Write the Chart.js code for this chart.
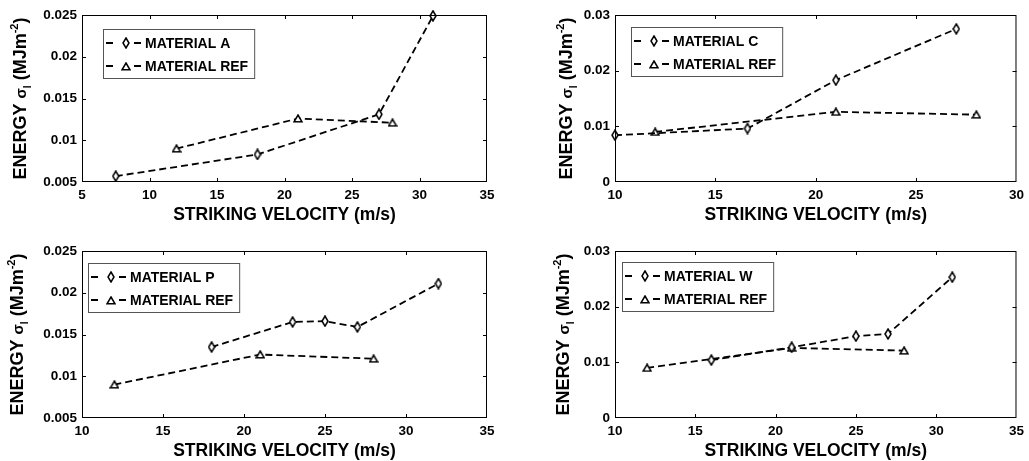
<!DOCTYPE html>
<html>
<head>
<meta charset="utf-8">
<script src="https://cdn.jsdelivr.net/npm/chart.js@4"></script>
<style>
  body { margin: 0; background: #fff; }
  canvas { position: absolute; }
</style>
</head>
<body>
<canvas id="chartA" width="514" height="230" style="left:0;top:0"></canvas>
<canvas id="chartC" width="515" height="230" style="left:514px;top:0"></canvas>
<canvas id="chartP" width="514" height="231" style="left:0;top:230px"></canvas>
<canvas id="chartW" width="515" height="231" style="left:514px;top:230px"></canvas>
<script>
// Velocidades de impacto (m/s) e energia (MJ/m2) para cada material
const velocityA = [7.5, 18, 27, 31];
const energyA = [0.0057, 0.0083, 0.0131, 0.0249];
const velocityC = [10, 16.6, 21, 27];
const energyC = [0.0084, 0.0096, 0.0183, 0.0275];
const velocityP = [18, 23, 25, 27, 32];
const energyP = [0.0135, 0.0165, 0.0166, 0.0159, 0.0211];
const velocityW = [16, 21, 25, 27, 31];
const energyW = [0.0104, 0.0127, 0.0147, 0.0151, 0.0253];
const velocityRef = [12, 21, 28];
const energyRef = [0.009, 0.0126, 0.0121];

const FONT = "'Liberation Sans', Arial, sans-serif";

// marcadores: losango estreito e triângulo vazados
function makeDiamond() {
  const c = document.createElement("canvas");
  c.width = 8; c.height = 12;
  const g = c.getContext("2d");
  g.beginPath();
  g.moveTo(4, 1); g.lineTo(7, 6); g.lineTo(4, 11); g.lineTo(1, 6);
  g.closePath();
  g.fillStyle = "#fff"; g.fill();
  g.strokeStyle = "#000"; g.lineWidth = 1.5; g.stroke();
  return c;
}
function makeTriangle() {
  const c = document.createElement("canvas");
  c.width = 10; c.height = 9;
  const g = c.getContext("2d");
  g.beginPath();
  g.moveTo(5, 1); g.lineTo(9, 7.8); g.lineTo(1, 7.8);
  g.closePath();
  g.fillStyle = "#fff"; g.fill();
  g.strokeStyle = "#000"; g.lineWidth = 1.5; g.stroke();
  return c;
}
const diamond = makeDiamond();
const triangle = makeTriangle();

function toPoints(xs, ys) {
  return xs.map((x, i) => ({ x: x, y: ys[i] }));
}

function fmt(v) {
  return String(+v.toFixed(4));
}

// moldura, marcas internas, legenda e título do eixo y
const framePlugin = {
  id: "frame",
  afterDraw(chart, args, opts) {
    const ctx = chart.ctx;
    const a = chart.chartArea;
    const xs = chart.scales.x, ys = chart.scales.y;
    ctx.save();
    ctx.strokeStyle = "#000";
    ctx.lineWidth = 1;
    ctx.strokeRect(a.left + 0.5, a.top + 0.5, a.right - a.left - 1, a.bottom - a.top - 1);

    ctx.beginPath();
    xs.ticks.forEach((t) => {
      const px = Math.round(xs.getPixelForValue(t.value)) + 0.5;
      if (px < a.left + 2 || px > a.right - 2) return;
      ctx.moveTo(px, a.bottom); ctx.lineTo(px, a.bottom - 4);
      ctx.moveTo(px, a.top); ctx.lineTo(px, a.top + 4);
    });
    ys.ticks.forEach((t) => {
      const py = Math.round(ys.getPixelForValue(t.value)) + 0.5;
      if (py < a.top + 2 || py > a.bottom - 2) return;
      ctx.moveTo(a.left, py); ctx.lineTo(a.left + 4, py);
      ctx.moveTo(a.right, py); ctx.lineTo(a.right - 4, py);
    });
    ctx.stroke();

    // legenda
    const bx = a.left + opts.legendX, by = a.top + opts.legendY;
    ctx.font = "bold 14px " + FONT;
    let tw = 0;
    chart.data.datasets.forEach((d) => { tw = Math.max(tw, ctx.measureText(d.label).width); });
    const bw = 42 + tw + 6, bh = 49;
    ctx.fillStyle = "#fff";
    ctx.fillRect(bx, by, bw, bh);
    ctx.strokeStyle = "#555";
    ctx.strokeRect(bx + 0.5, by + 0.5, bw, bh);
    chart.data.datasets.forEach((d, i) => {
      const ry = by + 14 + i * 23;
      ctx.strokeStyle = "#000";
      ctx.lineWidth = 1.8;
      ctx.beginPath();
      ctx.moveTo(bx + 3, ry); ctx.lineTo(bx + 10, ry);
      ctx.moveTo(bx + 31, ry); ctx.lineTo(bx + 38, ry);
      ctx.stroke();
      const img = d.pointStyle;
      ctx.drawImage(img, bx + 23 - img.width / 2, Math.round(ry - img.height / 2));
      ctx.fillStyle = "#000";
      ctx.textAlign = "left";
      ctx.textBaseline = "middle";
      ctx.fillText(d.label, bx + 42, ry + 1);
    });

    // título do eixo y com índice e expoente
    const parts = [
      { t: "ENERGY ", f: "bold 18px " + FONT, dy: 0 },
      { t: "σ", f: "bold 15px " + FONT, dy: 0 },
      { t: "I", f: "bold 10px " + FONT, dy: 5 },
      { t: " (MJm", f: "bold 18px " + FONT, dy: 0 },
      { t: "-2", f: "bold 11px " + FONT, dy: -8 },
      { t: ")", f: "bold 18px " + FONT, dy: 0 },
    ];
    let total = 0;
    parts.forEach((p) => { ctx.font = p.f; p.w = ctx.measureText(p.t).width; total += p.w; });
    ctx.translate(opts.titleX, (a.top + a.bottom) / 2);
    ctx.rotate(-Math.PI / 2);
    ctx.textAlign = "left";
    ctx.textBaseline = "alphabetic";
    ctx.fillStyle = "#000";
    let cx = -total / 2;
    parts.forEach((p) => {
      ctx.font = p.f;
      ctx.fillText(p.t, cx, 6.5 + p.dy);
      cx += p.w;
    });
    ctx.restore();
  },
};

function drawPanel(id, cfg) {
  const canvas = document.getElementById(id);
  const W = canvas.width, H = canvas.height;
  const area = cfg.area;
  return new Chart(canvas.getContext("2d"), {
    type: "line",
    data: {
      datasets: cfg.series.map((s) => ({
        label: s.label,
        data: toPoints(s.x, s.y),
        borderColor: "#000",
        borderWidth: 1.8,
        borderDash: [7, 4],
        pointStyle: s.marker,
        pointRadius: 4,
        pointHoverRadius: 4,
        fill: false,
        tension: 0,
        clip: false,
      })),
    },
    options: {
      responsive: false,
      animation: false,
      events: [],
      layout: { padding: { left: 0, top: area.t, right: W - area.r, bottom: 0 } },
      plugins: {
        legend: { display: false },
        tooltip: { enabled: false },
        frame: { legendX: cfg.legend[0], legendY: cfg.legend[1], titleX: cfg.titleX },
      },
      scales: {
        x: {
          type: "linear",
          min: cfg.xRange[0],
          max: cfg.xRange[1],
          grid: { display: false, drawTicks: false },
          border: { display: false },
          ticks: {
            stepSize: 5,
            padding: 5,
            color: "#000",
            font: { family: FONT, size: 13.5, weight: "bold" },
            callback: (v) => fmt(v),
          },
          title: {
            display: true,
            text: "STRIKING VELOCITY (m/s)",
            color: "#000",
            font: { family: FONT, size: 17.5, weight: "bold", lineHeight: 1 },
            padding: { top: 0, bottom: cfg.xTitlePad },
          },
          afterFit: (s) => { s.height = H - area.b; },
        },
        y: {
          min: cfg.yRange[0],
          max: cfg.yRange[1],
          grid: { display: false, drawTicks: false },
          border: { display: false },
          ticks: {
            stepSize: cfg.yStep,
            padding: 5,
            color: "#000",
            font: { family: FONT, size: 13.5, weight: "bold" },
            callback: (v) => fmt(v),
          },
          afterFit: (s) => { s.width = area.l; },
        },
      },
    },
    plugins: [framePlugin],
  });
}

drawPanel("chartA", {
  area: { l: 82, r: 487, t: 15, b: 182 },
  xRange: [5, 35], yRange: [0.005, 0.025], yStep: 0.005,
  legend: [21, 14], titleX: 19, xTitlePad: 6.3,
  series: [
    { label: "MATERIAL A", x: velocityA, y: energyA, marker: diamond },
    { label: "MATERIAL REF", x: velocityRef, y: energyRef, marker: triangle },
  ],
});
drawPanel("chartC", {
  area: { l: 101, r: 506, t: 15, b: 182 },
  xRange: [10, 30], yRange: [0, 0.03], yStep: 0.01,
  legend: [16, 12], titleX: 51, xTitlePad: 6.3,
  series: [
    { label: "MATERIAL C", x: velocityC, y: energyC, marker: diamond },
    { label: "MATERIAL REF", x: velocityRef, y: energyRef, marker: triangle },
  ],
});
drawPanel("chartP", {
  area: { l: 82, r: 487, t: 21, b: 188 },
  xRange: [10, 35], yRange: [0.005, 0.025], yStep: 0.005,
  legend: [6, 12], titleX: 16, xTitlePad: 0.6,
  series: [
    { label: "MATERIAL P", x: velocityP, y: energyP, marker: diamond },
    { label: "MATERIAL REF", x: velocityRef, y: energyRef, marker: triangle },
  ],
});
drawPanel("chartW", {
  area: { l: 101, r: 506, t: 21, b: 188 },
  xRange: [10, 35], yRange: [0, 0.03], yStep: 0.01,
  legend: [7, 11], titleX: 48, xTitlePad: 0.6,
  series: [
    { label: "MATERIAL W", x: velocityW, y: energyW, marker: diamond },
    { label: "MATERIAL REF", x: velocityRef, y: energyRef, marker: triangle },
  ],
});
</script>
</body>
</html>
